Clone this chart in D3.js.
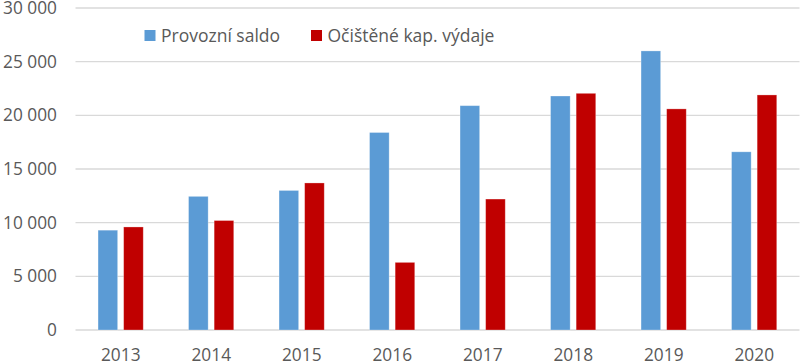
<!DOCTYPE html>
<html><head><meta charset="utf-8">
<script src="https://cdn.jsdelivr.net/npm/d3@7"></script>
<style>body{margin:0;background:#fff}svg{display:block}</style>
</head><body>
<script>
const years = ["2013","2014","2015","2016","2017","2018","2019","2020"];
const provozniSaldo = [9300, 12450, 13000, 18400, 20900, 21800, 26000, 16600];
const kapVydaje = [9600, 10200, 13700, 6300, 12200, 22050, 20600, 21900];
const seriesNames = ["Provozní saldo", "Očištěné kap. výdaje"];
const seriesColors = ["#5B9BD5", "#C00000"];
const yTicks = [0, 5000, 10000, 15000, 20000, 25000, 30000];

const W = 800, H = 364;
const font = "'Open Sans', sans-serif";
const svg = d3.select("body").append("svg").attr("width", W).attr("height", H);

const x = d3.scaleBand().domain(years).range([75.5, 799.5]).padding(0);
const y = d3.scaleLinear().domain([0, 30000]).range([330, 8]);
const fmt = v => d3.format(",")(v).replace(/,/g, " ");

// gridlines
svg.append("g").selectAll("line").data(yTicks).join("line")
  .attr("x1", 75.5).attr("x2", 799.5)
  .attr("y1", d => y(d)).attr("y2", d => y(d))
  .attr("stroke", "#D9D9D9").attr("stroke-width", 1.3);

// y labels
svg.append("g").selectAll("text").data(yTicks).join("text")
  .attr("x", 57).attr("y", d => y(d)).attr("dy", "0.35em")
  .attr("text-anchor", "end").attr("font-family", font).attr("font-size", 17.3)
  .attr("fill", "#595959").text(fmt);

// x labels
svg.append("g").selectAll("text").data(years).join("text")
  .attr("x", d => x(d) + x.bandwidth() / 2).attr("y", 361)
  .attr("text-anchor", "middle").attr("font-family", font).attr("font-size", 17.3)
  .attr("fill", "#595959").text(d => d);

const barW = 19.6;
const offsets = [-22.7, 2.9];
[provozniSaldo, kapVydaje].forEach((vals, si) => {
  svg.append("g").selectAll("rect").data(vals).join("rect")
    .attr("x", (d, i) => x(years[i]) + x.bandwidth() / 2 + offsets[si])
    .attr("y", d => y(d)).attr("width", barW).attr("height", d => y(0) - y(d))
    .attr("fill", seriesColors[si])
    .attr("stroke", "#fff").attr("stroke-opacity", 0.35).attr("stroke-width", 0.8);
});

// legend
const legendX = [144.5, 311];
seriesNames.forEach((n, i) => {
  const g = svg.append("g").attr("transform", `translate(${legendX[i]},30)`);
  g.append("rect").attr("width", 11).attr("height", 11).attr("fill", seriesColors[i]);
  g.append("text").attr("x", 16.5).attr("y", 5.5).attr("dy", "0.35em")
    .attr("font-family", font).attr("font-size", 17.5).attr("fill", "#595959").text(n);
});
</script>
</body></html>
